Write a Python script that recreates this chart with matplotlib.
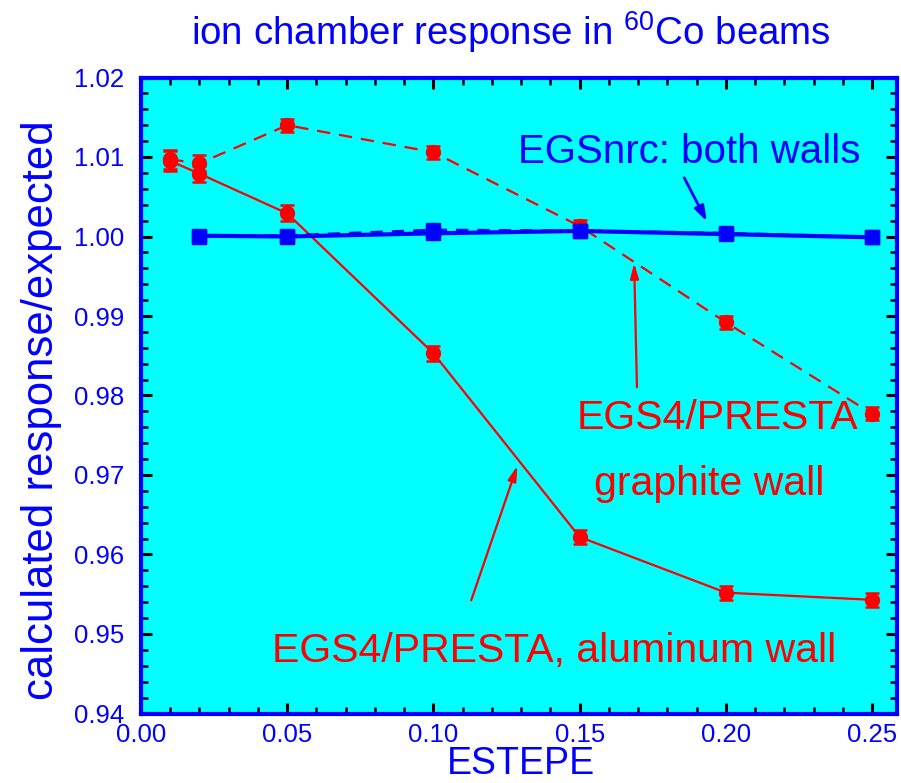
import numpy as np
import matplotlib
matplotlib.use("Agg")
import matplotlib.pyplot as plt
from matplotlib.ticker import MultipleLocator, FormatStrFormatter

plt.rcParams['font.family'] = ['Liberation Sans', 'DejaVu Sans']
plt.rcParams['mathtext.fontset'] = 'custom'
plt.rcParams['mathtext.rm'] = 'Liberation Sans'

# ESTEPE values
estepe_red = [0.01, 0.02, 0.05, 0.10, 0.15, 0.20, 0.25]
estepe_blue = [0.02, 0.05, 0.10, 0.15, 0.20, 0.25]

# EGS4/PRESTA results
presta_al = [1.0095, 1.0079, 1.0029, 0.9853, 0.9622, 0.9552, 0.9543]
presta_al_err = [0.0012, 0.0010, 0.0010, 0.0009, 0.0009, 0.0009, 0.0009]
presta_gr = [1.0097, 1.0092, 1.0140, 1.0106, 1.0013, 0.9892, 0.9777]
presta_gr_err = [0.0012, 0.0010, 0.0008, 0.0008, 0.0008, 0.0008, 0.0008]

# EGSnrc results
nrc_al = [1.0001, 1.0000, 1.0004, 1.0007, 1.0003, 0.9999]
nrc_gr = [1.0000, 1.0001, 1.0008, 1.0007, 1.0004, 0.9999]
nrc_err = [0.0002, 0.0002, 0.0002, 0.0003, 0.0002, 0.0002]

blue = '#0000ff'
red = '#ff0000'

fig = plt.figure(figsize=(9.01, 7.83), dpi=100)
ax = fig.add_axes([141/901, 69.5/783, 756/901, 636/783])
ax.set_facecolor('#00ffff')

# red curves
ax.errorbar(estepe_red, presta_al, yerr=presta_al_err, color=red, lw=1.6,
            marker='o', ms=10, capsize=5, capthick=1.8, elinewidth=1.6, zorder=3)
ax.errorbar(estepe_red, presta_gr, yerr=presta_gr_err, color=red, lw=1.6,
            ls=(0, (6, 4)), marker='o', ms=10, capsize=5, capthick=1.8,
            elinewidth=1.6, zorder=3)

# blue curves
ax.errorbar(estepe_blue, nrc_gr, yerr=nrc_err, color=blue, lw=2.2,
            ls=(0, (4, 3)), marker='s', ms=9.5, capsize=5, capthick=1.5,
            elinewidth=1.5, zorder=4)
ax.errorbar(estepe_blue, nrc_al, yerr=nrc_err, color=blue, lw=3,
            marker='s', ms=9.5, capsize=5, capthick=1.5, elinewidth=1.5, zorder=4)

ax.set_xlim(0, 0.2585)
ax.set_ylim(0.94, 1.02)
ax.xaxis.set_major_locator(MultipleLocator(0.05))
ax.xaxis.set_minor_locator(MultipleLocator(0.01))
ax.yaxis.set_major_locator(MultipleLocator(0.01))
ax.yaxis.set_minor_locator(MultipleLocator(0.002))
ax.xaxis.set_major_formatter(FormatStrFormatter('%.2f'))
ax.yaxis.set_major_formatter(FormatStrFormatter('%.2f'))

ax.tick_params(which='both', direction='in', top=True, right=True,
               color='black', labelcolor=blue, labelsize=18.5)
ax.tick_params(which='major', length=8, width=2.2)
ax.tick_params(which='minor', length=5, width=1.8)
ax.tick_params(axis='x', which='major', pad=7)
ax.tick_params(axis='y', which='major', pad=12)
for s in ax.spines.values():
    s.set_color(blue)
    s.set_linewidth(3)

ax.set_ylabel('calculated response/expected', fontsize=31.5, color=blue)
ax.yaxis.set_label_coords(-0.132, 0.477)
ax.yaxis.label.set_va('center')
fig.text(521/901, 1 / 783, 'ESTEPE', fontsize=27, color=blue,
         ha='center', va='bottom')
fig.text(0.567, 1 - 45/783, r'ion chamber response in $\mathregular{^{60}}$Co beams',
         fontsize=27.7, color=blue, ha='center', va='baseline')

# annotations
ax.text(0.1874, 1.0106, 'EGSnrc: both walls', fontsize=29, color=blue,
        ha='center', va='center')
ax.annotate('', xy=(0.1939, 1.0016), xytext=(0.1853, 1.0077),
            arrowprops=dict(arrowstyle='-|>,head_length=0.9,head_width=0.3',
                            color=blue, lw=2))
ax.text(0.1971, 0.9772, 'EGS4/PRESTA', fontsize=29.5, color=red,
        ha='center', va='center')
ax.text(0.1944, 0.9689, 'graphite wall', fontsize=29.5, color=red,
        ha='center', va='center')
ax.annotate('', xy=(0.1686, 0.9970), xytext=(0.1696, 0.9807),
            arrowprops=dict(arrowstyle='-|>,head_length=0.9,head_width=0.25',
                            color=red, lw=1.6))
ax.text(0.1411, 0.9479, 'EGS4/PRESTA, aluminum wall', fontsize=29.5, color=red,
        ha='center', va='center')
ax.annotate('', xy=(0.1290, 0.9715), xytext=(0.1126, 0.9539),
            arrowprops=dict(arrowstyle='-|>,head_length=0.9,head_width=0.25',
                            color=red, lw=1.6))

fig.savefig('out.png', dpi=100)
